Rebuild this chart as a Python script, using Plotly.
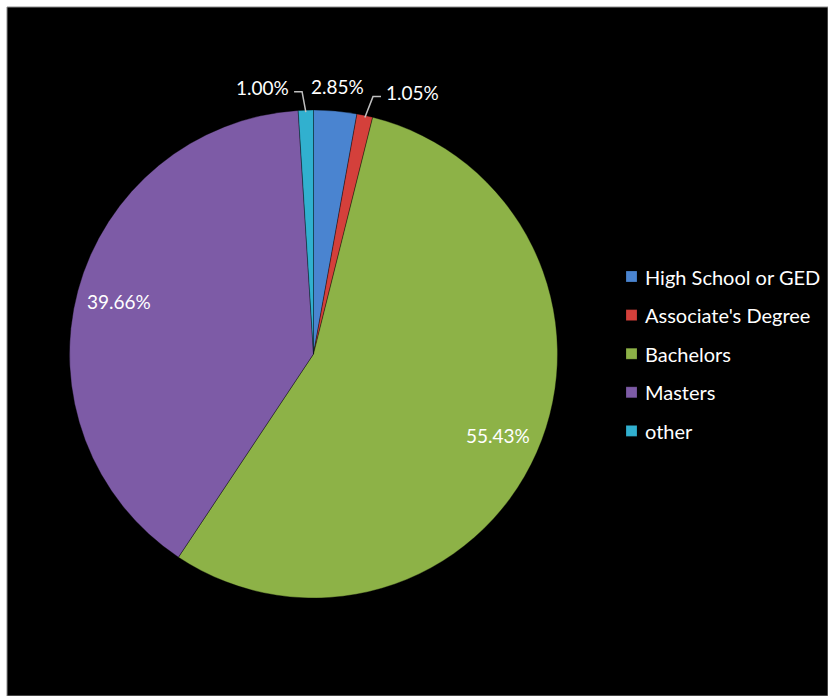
import numpy as np
import plotly.graph_objects as go

# Education level breakdown
categories = ["High School or GED", "Associate's Degree", "Bachelors", "Masters", "other"]
shares = [2.85, 1.05, 55.43, 39.66, 1.00]
slice_colors = ["#4A84D0", "#D4403B", "#8DB247", "#7D5BA6", "#31B0CF"]

W, H = 828, 696
# pie geometry in pixels
CX, CY, R = 313.5, 354.0, 244.0


def px(x):
    return x / W


def py(y):
    return 1 - y / H


fig = go.Figure()

fig.add_trace(go.Pie(
    labels=categories,
    values=shares,
    sort=False,
    direction="clockwise",
    rotation=0,
    marker=dict(colors=slice_colors, line=dict(color="rgba(0,0,0,0.35)", width=1)),
    textinfo="none",
    hoverinfo="label+percent",
    showlegend=False,
    domain=dict(x=[px(CX - R), px(CX + R)], y=[py(CY + R), py(CY - R)]),
))

# slice bisector angles (degrees clockwise from 12 o'clock)
vals = np.array(shares, dtype=float)
cum = np.cumsum(vals) / vals.sum() * 360.0
starts = cum - vals / vals.sum() * 360.0
mids = (starts + cum) / 2.0


def polar(angle, radius):
    a = np.deg2rad(angle)
    return CX + radius * np.sin(a), CY - radius * np.cos(a)


label_font = dict(family="Lato, sans-serif", size=19, color="white")
annotations = []
shapes = []

# black chart area with thin frame
shapes.append(dict(type="rect", xref="paper", yref="paper", layer="below",
                   x0=px(7), x1=1.0, y0=0.0, y1=py(7),
                   fillcolor="black", line=dict(color="#8a8a8a", width=1)))


def add_text(x, y, text, font, xanchor="center"):
    annotations.append(dict(x=px(x), y=py(y), xref="paper", yref="paper",
                            xanchor=xanchor, yanchor="middle", text=text,
                            showarrow=False, font=font))


# label placement: inside for large slices, outside for thin ones
outside_offsets = {0: (0, 0), 1: (43, 1), 4: (-43, 2)}  # pixel shifts for crowded labels
half_width = 29
for i, v in enumerate(shares):
    text = f"{v:.2f}%"
    if v > 10:
        x, y = polar(mids[i], 0.827 * R)
        add_text(x, y, text, label_font)
    else:
        ex, ey = polar(mids[i], R)
        lx, ly = polar(mids[i], 1.1 * R)
        dx, dy = outside_offsets[i]
        lx, ly = lx + dx, ly + dy
        add_text(lx, ly, text, label_font)
        if dx != 0:
            side = -1 if dx > 0 else 1
            hx = lx + side * (half_width + 3)   # start of the stub next to the text
            kx = hx + side * 8                  # elbow of the leader line
            yk = ly + 4
            path = f"M {px(hx)},{py(yk)} L {px(kx)},{py(yk)} L {px(ex)},{py(ey + 2)}"
            shapes.append(dict(type="path", xref="paper", yref="paper", path=path,
                               line=dict(color="#BFBFBF", width=1.5)))

# legend
legend_font = dict(family="Lato, sans-serif", size=20, color="white")
leg_x, leg_y0, leg_step, box = 626, 276.5, 38.6, 11
for i, (name, c) in enumerate(zip(categories, slice_colors)):
    yc = leg_y0 + i * leg_step
    shapes.append(dict(type="rect", xref="paper", yref="paper",
                       x0=px(leg_x), x1=px(leg_x + box), y0=py(yc + box / 2), y1=py(yc - box / 2),
                       fillcolor=c, line=dict(color="rgba(0,0,0,0.4)", width=0.5)))
    add_text(leg_x + box + 6, yc, name, legend_font, xanchor="left")

fig.update_layout(
    width=W, height=H,
    margin=dict(l=0, r=0, t=0, b=0),
    paper_bgcolor="white",
    plot_bgcolor="black",
    showlegend=False,
    shapes=shapes,
    annotations=annotations,
)

fig.write_html("out.html")
